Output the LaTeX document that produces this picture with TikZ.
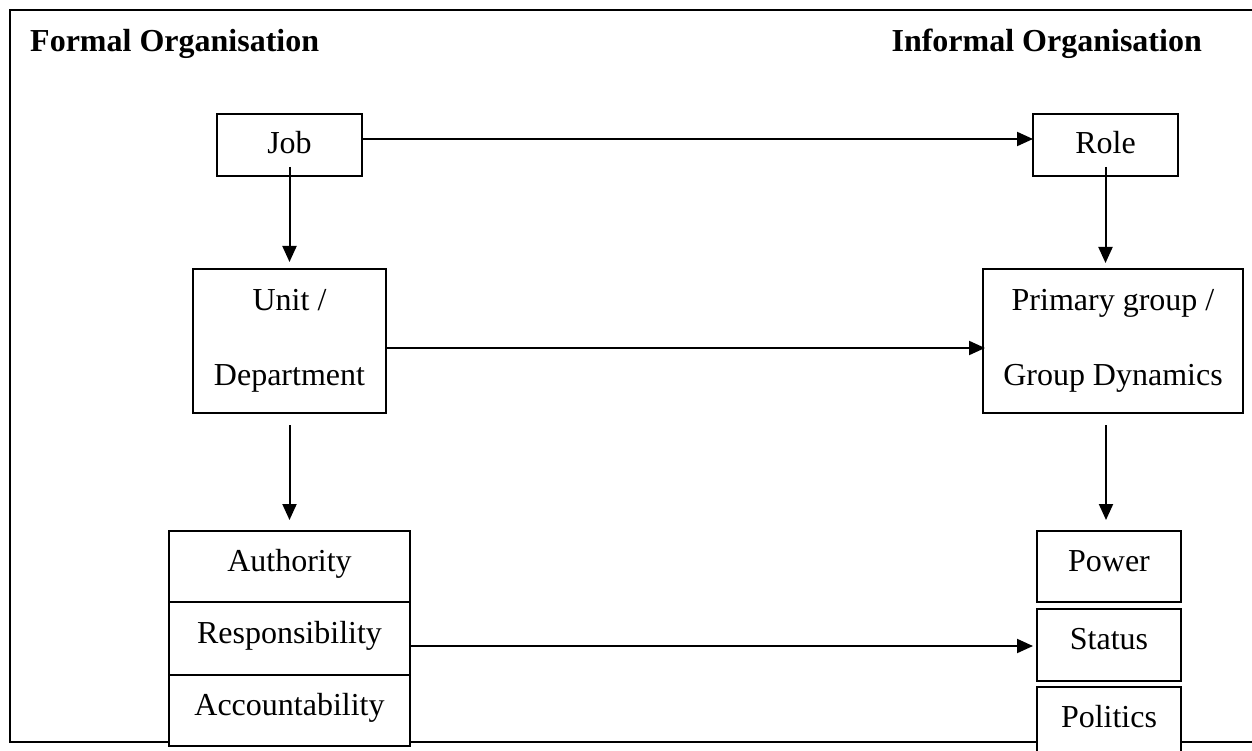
\documentclass[tikz,border=0pt]{standalone}
\usepackage{fontspec}
\setmainfont{Liberation Serif}
\usetikzlibrary{arrows.meta,calc}

\tikzset{
  frameline/.style={line width=2pt},
  box/.style={draw, line width=2pt, fill=white, inner sep=0pt, outer sep=0pt,
    font=\fontsize{32}{75}\selectfont, align=center},
  lowtext/.style={text height=22pt, text depth=13pt},
  hightext/.style={text height=22pt, text depth=4pt},
  heading/.style={font=\fontsize{32}{38}\selectfont\bfseries, inner sep=0pt},
  flow/.style={line width=2pt, -{Triangle[length=16pt,width=14pt]}}
}

\begin{document}
\begin{tikzpicture}[x=1pt,y=-1pt]
  \clip (0,0) rectangle (1252,751);

  % outer frame, open on the right
  \draw[frameline] (1262,10) -- (10,10) -- (10,742) -- (1262,742);

  % headings
  \node[heading, anchor=base west] (formal) at (30,52) {Formal Organisation};
  \node[heading, anchor=base east] (informal) at (1202,52) {Informal Organisation};

  % formal side
  \node[box, hightext, minimum width=145pt, minimum height=62pt] (job) at (289.5,145) {Job};
  \node[box, minimum width=193pt, minimum height=144pt] (unit) at (289.5,341) {Unit /\\Department};
  \node[box, lowtext, minimum width=241pt, minimum height=71pt] (auth) at (289.5,566.5) {Authority};
  \node[box, lowtext, minimum width=241pt, minimum height=73pt] (resp) at (289.5,638.5) {Responsibility};
  \node[box, lowtext, minimum width=241pt, minimum height=71pt] (acc) at (289.5,710.5) {Accountability};

  % informal side
  \node[box, hightext, minimum width=145pt, minimum height=62pt] (role) at (1105.5,145) {Role};
  \node[box, minimum width=260pt, minimum height=144pt] (prim) at (1113,341) {Primary group /\\Group Dynamics};
  \node[box, lowtext, minimum width=144pt, minimum height=71pt] (power) at (1109,566.5) {Power};
  \node[box, lowtext, minimum width=144pt, minimum height=72pt] (status) at (1109,645) {Status};
  \node[box, lowtext, minimum width=144pt, minimum height=71pt] (politics) at (1109,722.5) {Politics};

  % connectors
  \draw[flow] ($(job.east)+(0,-6)$) -- ($(role.west)+(0,-6)$);
  \draw[flow] ($(job.south)+(0,-9)$) -- ($(unit.north)+(0,-7)$);
  \draw[flow] ($(role.south)+(0,-9)$) -- ($(role.south |- prim.north)+(0,-6)$);
  \draw[flow] ($(unit.east)+(0,7)$) -- ($(prim.west)+(2,7)$);
  \draw[flow] ($(unit.south)+(0,12)$) -- ($(auth.north)+(0,-11)$);
  \draw[flow] ($(power.north |- prim.south)+(-3,12)$) -- ($(power.north)+(-3,-11)$);
  \draw[flow] ($(resp.east)+(0,7.5)$) -- ($(status.west)+(-4,1)$);
\end{tikzpicture}
\end{document}
